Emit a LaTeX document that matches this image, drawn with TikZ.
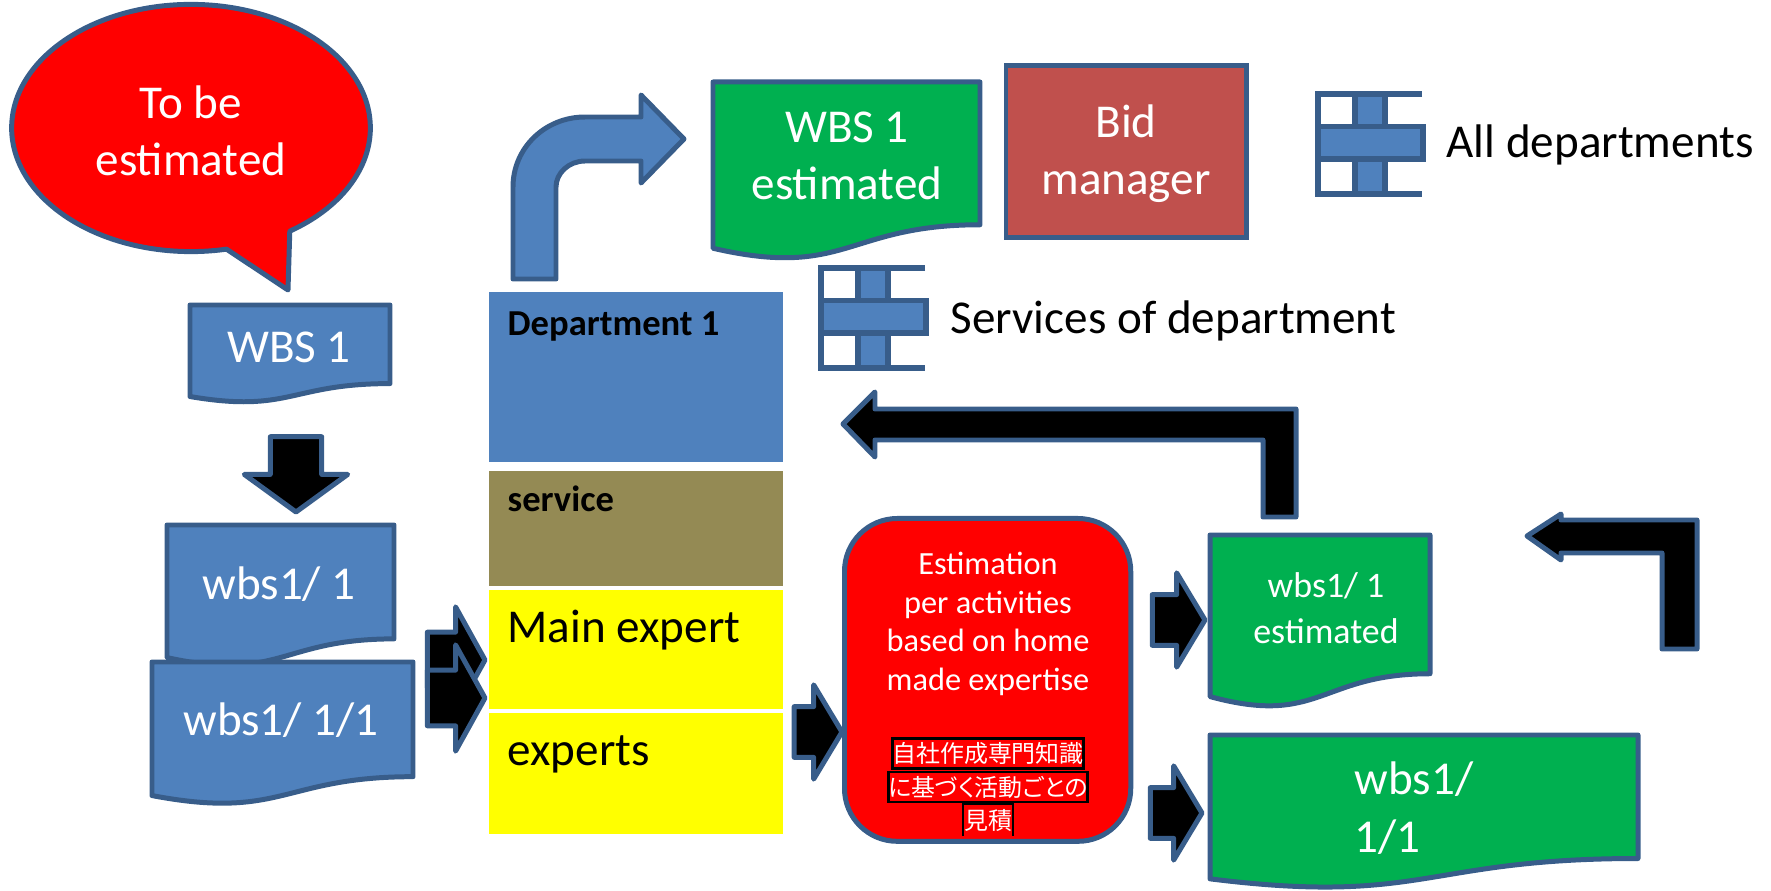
\documentclass[tikz,border=0pt]{standalone}
\usepackage{fontspec}
\setmainfont{Carlito}
\newfontfamily\cjkfont[RawFeature=+palt]{Noto Sans CJK JP}
\usetikzlibrary{shapes.arrows,shapes.callouts}

\definecolor{edgeblue}{HTML}{385D8A}
\definecolor{fillblue}{HTML}{4F81BD}
\definecolor{docgreen}{HTML}{00B050}
\definecolor{bidred}{HTML}{C0504D}
\definecolor{olive}{HTML}{948A54}
\definecolor{expertyellow}{HTML}{FFFF00}

\newcommand{\wavedoc}[5]{% x, y, w, h, fill
  \draw[shapeline, fill=#5] (#1,#2) -- ({#1+#3},#2) -- ({#1+#3},{#2+.802*#4})
    .. controls ({#1+.5*#3},{#2+.802*#4}) and ({#1+.5*#3},{#2+1.1075*#4}) .. (#1,{#2+.934*#4}) -- cycle;
}

\tikzset{
  shapeline/.style={draw=edgeblue, line width=1.42pt, line join=round},
  whitetext/.style={text=white, align=center, inner sep=0pt},
  largetext/.style={font=\fontsize{13.4}{16.2}\selectfont},
  boldtext/.style={font=\bfseries\fontsize{10.4}{12}\selectfont},
  smalltext/.style={font=\fontsize{9.2}{11}\selectfont},
  cjkline/.style={draw=black, line width=.7pt, text=white, inner sep=0pt, text depth=1.6pt,
    text height=6.9pt, font=\cjkfont\fontsize{6.8}{8}\selectfont},
  deptbox/.style={anchor=north west, inner sep=0pt, minimum width=83.6pt},
  deptlabel/.style={anchor=west, inner sep=0pt, text=black},
  blockarrow/.style={shapeline, fill=black, single arrow, inner xsep=0pt, inner ysep=6.5pt, outer sep=0pt, anchor=tip,
    minimum height=15pt, single arrow head extend=6.2pt, single arrow tip angle=118},
  pairarrow/.style={blockarrow, inner ysep=7.2pt, minimum height=16.4pt, single arrow head extend=7.2pt,
    single arrow tip angle=122},
  deptgrid/.pic={
    \draw[draw=edgeblue, line width=1.5pt] (104,0) -- (0,0) -- (0,100) -- (104,100);
    \draw[draw=edgeblue, line width=1.5pt, fill=fillblue] (37,0) rectangle (67,100);
    \draw[draw=edgeblue, line width=1.5pt, fill=fillblue] (0,32.5) rectangle (105,65);
  }
}

\begin{document}
\begin{tikzpicture}[x=0.01cm, y=-0.01cm]
    \useasboundingbox (0,0) rectangle (1771,891);

    % left column
    \node[shapeline, fill=red, ellipse callout, minimum width=102pt, minimum height=70.3pt, inner sep=0pt,
      callout absolute pointer={(288,290)}, callout pointer arc=22, whitetext, largetext] (tobe) at (191,128) {};
    \node[whitetext, largetext] (tobetext) at (191,131) {To be\\estimated};

    \wavedoc{190}{305}{200}{98}{fillblue}
    \node[whitetext, largetext] (wbs) at (289,347) {WBS 1};

    \node[blockarrow, shape border rotate=270, inner xsep=6.6pt, inner ysep=0pt, minimum height=21.4pt,
      single arrow head extend=7.4pt, single arrow tip angle=108] (wbsdown) at (296,512) {};

    \wavedoc{167}{525}{227}{142}{fillblue}
    \node[whitetext, largetext] (wbsa) at (279,584) {wbs1/ 1};
    \wavedoc{152}{662}{261}{143}{fillblue}
    \node[whitetext, largetext] (wbsb) at (281,720) {wbs1/ 1/1};

    \node[pairarrow] (wbsaright) at (485,660) {};
    \node[pairarrow] (wbsbright) at (485,698) {};

    % department column
    \node[deptbox, fill=fillblue, minimum height=48.4pt] (dept) at (488.5,291.5) {};
    \node[deptbox, fill=olive, minimum height=32.9pt] (service) at (488.5,470) {};
    \node[deptbox, fill=expertyellow, minimum height=34pt] (mainexp) at (488.5,589) {};
    \node[deptbox, fill=expertyellow, minimum height=34.6pt] (experts) at (488.5,712) {};
    \node[deptlabel, boldtext] (deptname) at (507,327) {Department 1};
    \node[deptlabel, boldtext] (servicename) at (507,499) {service};
    \node[deptlabel, largetext] (mainname) at (507,630) {Main expert};
    \node[deptlabel, largetext] (expertsname) at (507,754) {experts};

    \draw[shapeline, fill=fillblue] (513,279) -- (513,187) .. controls (513,148) and (545,117) .. (585,117)
      -- (641,117) -- (641,95) -- (684,139) -- (641,183) -- (641,161) -- (585,161)
      .. controls (569,161) and (556,173) .. (556,187) -- (556,279) -- cycle;

    % top right
    \wavedoc{713}{82}{267}{178}{docgreen}
    \node[whitetext, largetext] (wbsest) at (847,156) {WBS 1\\estimated};
    \node[shapeline, line join=miter, fill=bidred, anchor=north west, minimum width=68.4pt, minimum height=48.8pt, inner sep=0pt,
      whitetext, largetext] (bid) at (1003.5,63) {};
    \node[whitetext, largetext] (bidtext) at (1126,154) {Bid\\manager};

    \pic (allgrid) at (1318,94) {deptgrid};
    \node[deptlabel, largetext] (alldept) at (1446,145) {All departments};
    \pic (servicegrid) at (821,268) {deptgrid};
    \node[deptlabel, largetext] (servicedept) at (950,321) {Services of department};

    % estimation
    \node[blockarrow, minimum height=13.6pt] (expertsright) at (842,732) {};
    \node[shapeline, fill=red, rounded corners=15pt, anchor=north west, minimum width=81.4pt, minimum height=91.8pt] (estim) at (842,516) {};
    \node[whitetext, smalltext] (estimtext) at (988,624) {Estimation\\per activities\\based on home\\made expertise};
    \node[cjkline] (jpa) at (988,753.5) {自社作成専門知識};
    \node[cjkline] (jpb) at (988,787) {に基づく活動ごとの};
    \node[cjkline, draw=none] (jpc) at (988,820) {見積};
    \draw[black, line width=.7pt] (jpc.south west) |- (jpc.north east) -- (jpc.south east);

    \node[blockarrow] (estimright) at (1205,620) {};
    \node[blockarrow, minimum height=14.7pt] (estimlower) at (1202,813) {};

    \wavedoc{1210}{535}{220}{173}{docgreen}
    \node[whitetext, font=\fontsize{10.2}{13.1}\selectfont] (wbsaest) at (1326,608) {wbs1/ 1\\estimated};
    \wavedoc{1210}{735}{428}{154}{docgreen}
    \node[whitetext, largetext, align=left, anchor=west] (wbsbest) at (1354,808) {wbs1/\\[.3pt]1/1};

    % black return arrows
    \draw[shapeline, fill=black] (843,424) -- (875,392) -- (875,409) -- (1296,409) -- (1296,517)
      -- (1263,517) -- (1263,440) -- (875,440) -- (875,457) -- cycle;
    \draw[shapeline, fill=black] (1527,536) -- (1561,514) -- (1561,520) -- (1697,520) -- (1697,649)
      -- (1662,649) -- (1662,553) -- (1561,553) -- (1561,560) -- cycle;
\end{tikzpicture}
\end{document}
